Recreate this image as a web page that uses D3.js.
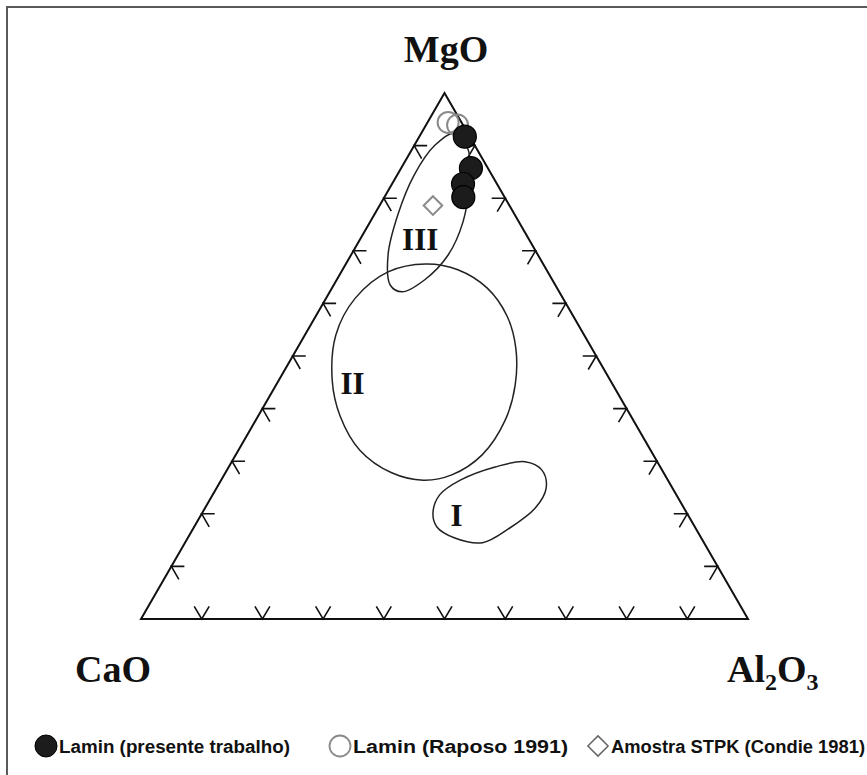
<!DOCTYPE html>
<html>
<head>
<meta charset="utf-8">
<script src="https://cdn.jsdelivr.net/npm/d3@7"></script>
<style>
  html, body { margin: 0; padding: 0; background: #fff; }
  svg { display: block; }
</style>
</head>
<body>
<svg id="chart" width="867" height="775"></svg>
<script>
// ---- DATA (percent: MgO, CaO, Al2O3) ----
const apexLabels = ["MgO", "CaO", "Al2O3"];
const tickValues = [10, 20, 30, 40, 50, 60, 70, 80, 90];

const presenteMgO = [91.7, 85.7, 82.7, 80.2];
const presenteCaO = [0.8, 2.8, 5.6, 6.8];
const presenteAl2O3 = [7.5, 11.5, 11.7, 13.0];

const raposoMgO = [94.4, 93.9];
const raposoCaO = [2.2, 0.9];
const raposoAl2O3 = [3.4, 5.2];

const condieMgO = [78.6];
const condieCaO = [12.6];
const condieAl2O3 = [8.8];

const fieldI = [[20.2,41.8,38.0],[23.6,39.0,37.4],[26.4,34.2,39.4],[28.9,27.2,43.9],[29.9,21.8,48.3],[28.3,19.8,51.9],[24.9,20.8,54.3],[21.1,24.5,54.4],[17.3,30.6,52.1],[14.5,36.5,49.0],[15.4,40.6,44.0],[17.5,42.5,40.0]];
const fieldII = [[67.5,19.3,13.2],[66.4,14.6,19.0],[62.9,11.5,25.6],[57.6,10.9,31.5],[51.5,12.5,36.0],[44.5,16.1,39.4],[37.8,21.1,41.1],[31.2,28.2,40.6],[27.4,35.1,37.5],[26.4,40.3,33.3],[27.8,44.8,27.4],[32.1,47.9,20.0],[38.6,47.9,13.5],[45.4,45.8,8.8],[54.0,40.9,5.1],[61.0,34.2,4.8],[66.0,26.3,7.7]];
const fieldIII = [[92.4,2.1,5.5],[90.1,6.5,3.4],[84.4,12.8,2.8],[76.8,19.3,3.9],[69.2,24.7,6.1],[63.5,27.2,9.3],[62.2,25.9,11.9],[64.5,21.0,14.5],[69.2,14.8,16.0],[75.5,9.2,15.3],[82.5,4.7,12.8],[89.2,1.5,9.3]];
const fieldNames = ["I", "II", "III"];
const fieldLabelPos = [[19.6,38.2,42.2],[44.7,42.8,12.5],[72.2,17.9,9.9]];

const legendLabels = ["Lamin (presente trabalho)", "Lamin (Raposo 1991)", "Amostra STPK (Condie 1981)"];

// ---- SCALES ----
const svg = d3.select("#chart");
const xs = d3.scaleLinear().domain([0, 100]).range([141, 748]);   // Al2O3 + MgO/2
const ys = d3.scaleLinear().domain([0, 100]).range([619, 93]);    // MgO
function proj(m, c, a) {
  const s = m + c + a;
  m = m / s * 100; a = a / s * 100;
  return [xs(a + m / 2), ys(m)];
}

// frame
svg.append("rect").attr("x", 7).attr("y", 7).attr("width", 900).attr("height", 900)
  .attr("fill", "none").attr("stroke", "#5a5a5a").attr("stroke-width", 2);

// triangle
const T = proj(100, 0, 0), L = proj(0, 100, 0), R = proj(0, 0, 100);
svg.append("path").attr("d", d3.line()([T, L, R]) + "Z")
  .attr("fill", "none").attr("stroke", "#111").attr("stroke-width", 2).attr("stroke-linejoin", "miter");

// ticks
const tickG = svg.append("g").attr("stroke", "#111").attr("stroke-width", 1.6).attr("fill", "none");
const line = d3.line();
tickValues.forEach(v => {
  let p = proj(0, 100 - v, v);
  tickG.append("path").attr("d", line([[p[0] - 7.5, p[1] - 12.6], p, [p[0] + 7.5, p[1] - 12.6]]));
  p = proj(v, 100 - v, 0);
  tickG.append("path").attr("d", line([[p[0] + 13, p[1]], p, [p[0] + 7.5, p[1] + 13]]));
  p = proj(v, 0, 100 - v);
  tickG.append("path").attr("d", line([[p[0] - 13.5, p[1]], p, [p[0] - 8, p[1] + 13.5]]));
});

// fields
const fieldLine = d3.line().curve(d3.curveCatmullRomClosed.alpha(0.5));
[fieldI, fieldII, fieldIII].forEach(f => {
  svg.append("path").attr("d", fieldLine(f.map(d => proj(d[0], d[1], d[2]))))
    .attr("fill", "none").attr("stroke", "#222").attr("stroke-width", 1.5);
});
fieldNames.forEach((n, i) => {
  const p = proj(...fieldLabelPos[i]);
  svg.append("text").attr("x", p[0]).attr("y", p[1] + 10.5).attr("text-anchor", "middle")
    .attr("font-family", "Liberation Serif, Times New Roman, serif").attr("font-weight", "bold")
    .attr("font-size", 31).attr("fill", "#111").text(n);
});

// points: Raposo (open circles)
raposoMgO.forEach((m, i) => {
  const p = proj(m, raposoCaO[i], raposoAl2O3[i]);
  svg.append("circle").attr("cx", p[0]).attr("cy", p[1]).attr("r", 10.5)
    .attr("fill", "none").attr("stroke", "#8a8a8a").attr("stroke-width", 2);
});
// Condie diamond
const diamond = d3.symbol().type(d3.symbolDiamond2).size(220);
condieMgO.forEach((m, i) => {
  const p = proj(m, condieCaO[i], condieAl2O3[i]);
  svg.append("path").attr("d", diamond()).attr("transform", `translate(${p[0]},${p[1]})`)
    .attr("fill", "none").attr("stroke", "#8a8a8a").attr("stroke-width", 2);
});
// presente (filled)
presenteMgO.forEach((m, i) => {
  const p = proj(m, presenteCaO[i], presenteAl2O3[i]);
  svg.append("circle").attr("cx", p[0]).attr("cy", p[1]).attr("r", 11.5)
    .attr("fill", "#1c1c1c").attr("stroke", "#000").attr("stroke-width", 1.2);
});

// apex labels
const serif = "Liberation Serif, Times New Roman, serif";
svg.append("text").attr("x", 446).attr("y", 62).attr("text-anchor", "middle")
  .attr("font-family", serif).attr("font-weight", "bold").attr("font-size", 38).attr("fill", "#111")
  .text(apexLabels[0]);
svg.append("text").attr("x", 113).attr("y", 682).attr("text-anchor", "middle")
  .attr("font-family", serif).attr("font-weight", "bold").attr("font-size", 38).attr("fill", "#111")
  .text(apexLabels[1]);
const al = svg.append("text").attr("x", 727).attr("y", 682)
  .attr("font-family", serif).attr("font-weight", "bold").attr("font-size", 38).attr("fill", "#111");
al.append("tspan").text("Al");
al.append("tspan").attr("font-size", 24).attr("dy", 8).text("2");
al.append("tspan").attr("dy", -8).text("O");
al.append("tspan").attr("font-size", 24).attr("dy", 8).text("3");

// legend
const lg = svg.append("g");
const ly = 746;
const sans = "Liberation Sans, Arial, sans-serif";
lg.append("circle").attr("cx", 46).attr("cy", ly).attr("r", 11).attr("fill", "#1c1c1c").attr("stroke", "#000");
lg.append("circle").attr("cx", 340).attr("cy", ly).attr("r", 10.5).attr("fill", "none").attr("stroke", "#8a8a8a").attr("stroke-width", 1.8);
lg.append("path").attr("d", d3.symbol().type(d3.symbolDiamond2).size(260)()).attr("transform", `translate(598,${ly})`)
  .attr("fill", "none").attr("stroke", "#666").attr("stroke-width", 1.5);
const legX = [59, 353, 611];
const legW = [231, 215, 254];
legendLabels.forEach((t, i) => {
  lg.append("text").attr("x", legX[i]).attr("y", ly + 6.5).attr("font-family", sans).attr("font-weight", "bold")
    .attr("font-size", 18).attr("fill", "#111").attr("textLength", legW[i]).attr("lengthAdjust", "spacingAndGlyphs")
    .text(t);
});
</script>
</body>
</html>
